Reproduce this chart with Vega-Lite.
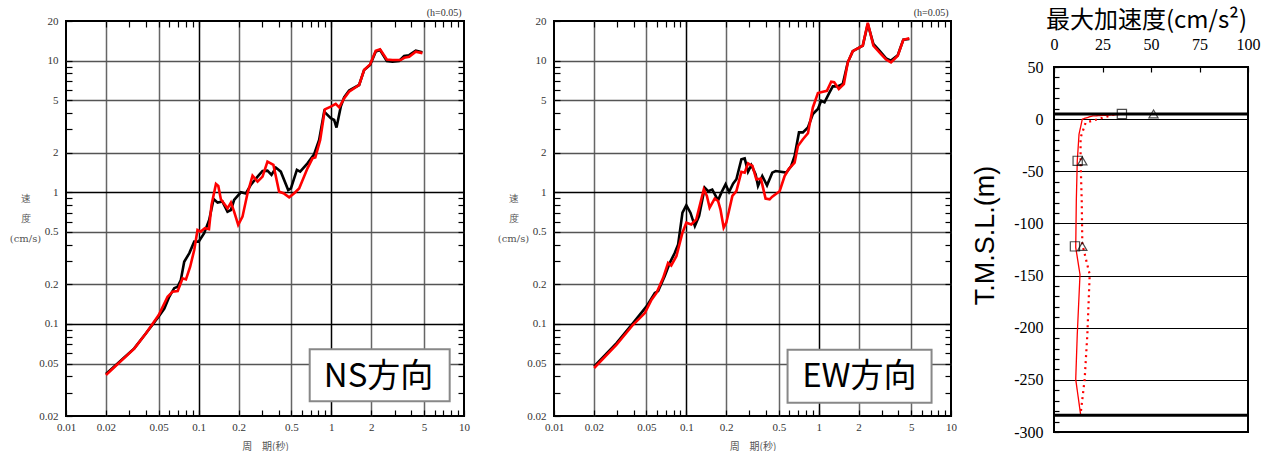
{
"$schema": "https://vega.github.io/schema/vega-lite/v6.json",
"padding": {"left": 8, "top": 7, "right": 0, "bottom": 0},
"config": {"view": {"stroke": "black", "strokeWidth": 2}},
"datasets": {
"ns": [
{"s":"obs","T":0.02,"V":0.0417},{"s":"obs","T":0.0327,"V":0.0653},{"s":"obs","T":0.0401,"V":0.085},{"s":"obs","T":0.05,"V":0.114},{"s":"obs","T":0.0551,"V":0.131},{"s":"obs","T":0.06,"V":0.161},{"s":"obs","T":0.0654,"V":0.187},{"s":"obs","T":0.0695,"V":0.192},{"s":"obs","T":0.0734,"V":0.216},{"s":"obs","T":0.0778,"V":0.297},{"s":"obs","T":0.0849,"V":0.344},{"s":"obs","T":0.0926,"V":0.422},{"s":"obs","T":0.1,"V":0.422},{"s":"obs","T":0.11,"V":0.489},{"s":"obs","T":0.12,"V":0.617},{"s":"obs","T":0.1296,"V":0.89},{"s":"obs","T":0.139,"V":0.835},{"s":"obs","T":0.151,"V":0.85},{"s":"obs","T":0.165,"V":0.713},{"s":"obs","T":0.175,"V":0.734},{"s":"obs","T":0.185,"V":0.874},{"s":"obs","T":0.208,"V":1.0},{"s":"obs","T":0.227,"V":0.98},{"s":"obs","T":0.247,"V":1.137},{"s":"obs","T":0.278,"V":1.315},{"s":"obs","T":0.303,"V":1.452},{"s":"obs","T":0.33,"V":1.46},{"s":"obs","T":0.354,"V":1.354},{"s":"obs","T":0.382,"V":1.54},{"s":"obs","T":0.416,"V":1.435},{"s":"obs","T":0.473,"V":1.04},{"s":"obs","T":0.496,"V":1.07},{"s":"obs","T":0.55,"V":1.478},{"s":"obs","T":0.582,"V":1.435},{"s":"obs","T":0.661,"V":1.66},{"s":"obs","T":0.742,"V":1.944},{"s":"obs","T":0.809,"V":2.5},{"s":"obs","T":0.883,"V":4.1},{"s":"obs","T":0.99,"V":3.65},{"s":"obs","T":1.05,"V":3.54},{"s":"obs","T":1.094,"V":3.1},{"s":"obs","T":1.178,"V":4.47},{"s":"obs","T":1.248,"V":5.27},{"s":"obs","T":1.361,"V":5.92},{"s":"obs","T":1.62,"V":6.53},{"s":"obs","T":1.766,"V":8.49},{"s":"obs","T":1.96,"V":9.27},{"s":"obs","T":2.16,"V":11.7},{"s":"obs","T":2.33,"V":12.05},{"s":"obs","T":2.62,"V":9.94},{"s":"obs","T":2.89,"V":9.8},{"s":"obs","T":3.24,"V":9.94},{"s":"obs","T":3.54,"V":10.85},{"s":"obs","T":3.86,"V":11.0},{"s":"obs","T":4.33,"V":11.9},{"s":"obs","T":4.86,"V":11.57},
{"s":"sim","T":0.02,"V":0.041},{"s":"sim","T":0.0327,"V":0.065},{"s":"sim","T":0.0401,"V":0.085},{"s":"sim","T":0.05,"V":0.117},{"s":"sim","T":0.0583,"V":0.161},{"s":"sim","T":0.0636,"V":0.176},{"s":"sim","T":0.0695,"V":0.178},{"s":"sim","T":0.0757,"V":0.222},{"s":"sim","T":0.0802,"V":0.218},{"s":"sim","T":0.0863,"V":0.272},{"s":"sim","T":0.0926,"V":0.365},{"s":"sim","T":0.098,"V":0.518},{"s":"sim","T":0.1036,"V":0.503},{"s":"sim","T":0.1114,"V":0.533},{"s":"sim","T":0.1196,"V":0.524},{"s":"sim","T":0.125,"V":0.8},{"s":"sim","T":0.135,"V":1.157},{"s":"sim","T":0.1406,"V":1.117},{"s":"sim","T":0.147,"V":0.885},{"s":"sim","T":0.165,"V":0.756},{"s":"sim","T":0.175,"V":0.835},{"s":"sim","T":0.185,"V":0.713},{"s":"sim","T":0.1986,"V":0.565},{"s":"sim","T":0.214,"V":0.653},{"s":"sim","T":0.2335,"V":0.983},{"s":"sim","T":0.2547,"V":1.339},{"s":"sim","T":0.278,"V":1.205},{"s":"sim","T":0.303,"V":1.315},{"s":"sim","T":0.33,"V":1.71},{"s":"sim","T":0.366,"V":1.613},{"s":"sim","T":0.404,"V":1.01},{"s":"sim","T":0.436,"V":0.983},{"s":"sim","T":0.481,"V":0.916},{"s":"sim","T":0.525,"V":0.983},{"s":"sim","T":0.572,"V":1.07},{"s":"sim","T":0.661,"V":1.52},{"s":"sim","T":0.721,"V":1.81},{"s":"sim","T":0.757,"V":1.84},{"s":"sim","T":0.824,"V":2.5},{"s":"sim","T":0.894,"V":4.27},{"s":"sim","T":0.99,"V":4.47},{"s":"sim","T":1.08,"V":4.69},{"s":"sim","T":1.146,"V":4.42},{"s":"sim","T":1.248,"V":5.17},{"s":"sim","T":1.361,"V":5.8},{"s":"sim","T":1.62,"V":6.53},{"s":"sim","T":1.766,"V":8.49},{"s":"sim","T":1.96,"V":9.37},{"s":"sim","T":2.16,"V":11.9},{"s":"sim","T":2.33,"V":12.2},{"s":"sim","T":2.62,"V":10.2},{"s":"sim","T":2.89,"V":10.1},{"s":"sim","T":3.33,"V":10.1},{"s":"sim","T":3.54,"V":10.5},{"s":"sim","T":3.86,"V":10.7},{"s":"sim","T":4.33,"V":11.7},{"s":"sim","T":4.86,"V":11.4}
],
"ew": [
{"s":"obs","T":0.0201,"V":0.0476},{"s":"obs","T":0.0297,"V":0.0716},{"s":"obs","T":0.0397,"V":0.102},{"s":"obs","T":0.05,"V":0.136},{"s":"obs","T":0.0578,"V":0.172},{"s":"obs","T":0.0612,"V":0.1774},{"s":"obs","T":0.0687,"V":0.231},{"s":"obs","T":0.075,"V":0.291},{"s":"obs","T":0.0818,"V":0.347},{"s":"obs","T":0.0867,"V":0.402},{"s":"obs","T":0.0935,"V":0.7},{"s":"obs","T":0.1,"V":0.796},{"s":"obs","T":0.1074,"V":0.7},{"s":"obs","T":0.116,"V":0.554},{"s":"obs","T":0.1249,"V":0.661},{"s":"obs","T":0.1377,"V":1.085},{"s":"obs","T":0.146,"V":1.02},{"s":"obs","T":0.157,"V":1.05},{"s":"obs","T":0.1737,"V":0.869},{"s":"obs","T":0.184,"V":0.994},{"s":"obs","T":0.198,"V":1.15},{"s":"obs","T":0.2103,"V":1.006},{"s":"obs","T":0.2255,"V":1.164},{"s":"obs","T":0.2389,"V":1.256},{"s":"obs","T":0.2606,"V":1.783},{"s":"obs","T":0.276,"V":1.81},{"s":"obs","T":0.2925,"V":1.43},{"s":"obs","T":0.31,"V":1.606},{"s":"obs","T":0.334,"V":1.37},{"s":"obs","T":0.348,"V":1.117},{"s":"obs","T":0.375,"V":1.33},{"s":"obs","T":0.407,"V":1.13},{"s":"obs","T":0.446,"V":1.41},{"s":"obs","T":0.473,"V":1.45},{"s":"obs","T":0.569,"V":1.41},{"s":"obs","T":0.621,"V":1.59},{"s":"obs","T":0.658,"V":1.89},{"s":"obs","T":0.71,"V":2.85},{"s":"obs","T":0.76,"V":2.85},{"s":"obs","T":0.83,"V":3.11},{"s":"obs","T":0.904,"V":3.93},{"s":"obs","T":0.987,"V":4.29},{"s":"obs","T":1.045,"V":4.96},{"s":"obs","T":1.107,"V":4.82},{"s":"obs","T":1.208,"V":5.74},{"s":"obs","T":1.279,"V":6.38},{"s":"obs","T":1.39,"V":6.38},{"s":"obs","T":1.521,"V":6.64},{"s":"obs","T":1.66,"V":9.71},{"s":"obs","T":1.81,"V":11.8},{"s":"obs","T":1.976,"V":12.4},{"s":"obs","T":2.155,"V":13.0},{"s":"obs","T":2.35,"V":19.0},{"s":"obs","T":2.59,"V":13.4},{"s":"obs","T":2.88,"V":11.9},{"s":"obs","T":3.23,"V":10.4},{"s":"obs","T":3.52,"V":10.0},{"s":"obs","T":3.96,"V":11.0},{"s":"obs","T":4.36,"V":14.4},{"s":"obs","T":4.84,"V":14.6},
{"s":"sim","T":0.0201,"V":0.0463},{"s":"sim","T":0.0297,"V":0.0696},{"s":"sim","T":0.0397,"V":0.099},{"s":"sim","T":0.0486,"V":0.121},{"s":"sim","T":0.0546,"V":0.153},{"s":"sim","T":0.0595,"V":0.172},{"s":"sim","T":0.0668,"V":0.224},{"s":"sim","T":0.0728,"V":0.291},{"s":"sim","T":0.0769,"V":0.278},{"s":"sim","T":0.0841,"V":0.327},{"s":"sim","T":0.0935,"V":0.493},{"s":"sim","T":0.1,"V":0.588},{"s":"sim","T":0.109,"V":0.57},{"s":"sim","T":0.119,"V":0.623},{"s":"sim","T":0.126,"V":0.787},{"s":"sim","T":0.1355,"V":1.054},{"s":"sim","T":0.143,"V":0.938},{"s":"sim","T":0.15,"V":0.764},{"s":"sim","T":0.1638,"V":0.895},{"s":"sim","T":0.1737,"V":0.859},{"s":"sim","T":0.181,"V":0.742},{"s":"sim","T":0.1915,"V":0.538},{"s":"sim","T":0.2005,"V":0.588},{"s":"sim","T":0.2228,"V":0.938},{"s":"sim","T":0.2389,"V":1.02},{"s":"sim","T":0.2606,"V":1.43},{"s":"sim","T":0.276,"V":1.41},{"s":"sim","T":0.2925,"V":1.66},{"s":"sim","T":0.316,"V":1.59},{"s":"sim","T":0.338,"V":1.256},{"s":"sim","T":0.366,"V":1.27},{"s":"sim","T":0.397,"V":0.895},{"s":"sim","T":0.426,"V":0.884},{"s":"sim","T":0.446,"V":0.927},{"s":"sim","T":0.507,"V":1.02},{"s":"sim","T":0.553,"V":1.33},{"s":"sim","T":0.594,"V":1.5},{"s":"sim","T":0.658,"V":1.68},{"s":"sim","T":0.697,"V":2.25},{"s":"sim","T":0.76,"V":2.53},{"s":"sim","T":0.83,"V":2.81},{"s":"sim","T":0.904,"V":4.41},{"s":"sim","T":0.987,"V":5.67},{"s":"sim","T":1.077,"V":5.8},{"s":"sim","T":1.154,"V":5.9},{"s":"sim","T":1.244,"V":6.92},{"s":"sim","T":1.31,"V":6.86},{"s":"sim","T":1.42,"V":6.09},{"s":"sim","T":1.55,"V":6.64},{"s":"sim","T":1.66,"V":9.71},{"s":"sim","T":1.81,"V":11.8},{"s":"sim","T":2.155,"V":13.0},{"s":"sim","T":2.35,"V":19.4},{"s":"sim","T":2.59,"V":13.0},{"s":"sim","T":2.96,"V":11.2},{"s":"sim","T":3.23,"V":10.2},{"s":"sim","T":3.52,"V":9.7},{"s":"sim","T":3.96,"V":10.9},{"s":"sim","T":4.36,"V":14.4},{"s":"sim","T":4.84,"V":14.8}
],
"boxNS": [{"x1":0.687,"x2":7.8,"y1":0.0259,"y2":0.0643,"tx":2.27,"ty":0.0394,"label":"NS方向"}],
"boxEW": [{"x1":0.582,"x2":7.13,"y1":0.0252,"y2":0.0637,"tx":2.03,"ty":0.0399,"label":"EW方向"}],
"profile": [
{"k":"solid","a":34,"z":4.5},{"k":"solid","a":19.7,"z":3},{"k":"solid","a":14.6,"z":0},{"k":"solid","a":12.9,"z":-14.5},{"k":"solid","a":12.0,"z":-40},{"k":"solid","a":11.5,"z":-78.5},{"k":"solid","a":11.2,"z":-123},{"k":"solid","a":13.4,"z":-149},{"k":"solid","a":12.0,"z":-206},{"k":"solid","a":11.2,"z":-249.5},{"k":"solid","a":13.7,"z":-283},
{"k":"dot","a":31,"z":4.5},{"k":"dot","a":16.3,"z":-3.4},{"k":"dot","a":13.7,"z":-17.8},{"k":"dot","a":13.7,"z":-40},{"k":"dot","a":14.3,"z":-78.5},{"k":"dot","a":14.6,"z":-120},{"k":"dot","a":18.4,"z":-149},{"k":"dot","a":17.2,"z":-206},{"k":"dot","a":15.8,"z":-249.5},{"k":"dot","a":13.7,"z":-283}
],
"markers": [
{"m":"square","a":35,"z":5},{"m":"square","a":12.2,"z":-40},{"m":"square","a":10.8,"z":-122},
{"m":"triangle","a":51.3,"z":5},{"m":"triangle","a":14.6,"z":-40},{"m":"triangle","a":14.6,"z":-122}
],
"levels": [{"z":5},{"z":-284}],
"blank": [{"z":0}]
},
"hconcat": [
{
"spacing": 25,
"hconcat": [
{
"width": 398, "height": 395,
"title": {"text": "(h=0.05)", "anchor": "end", "fontSize": 10, "font": "Liberation Serif", "fontWeight": "normal", "color": "#333", "offset": -3, "dx": -8},
"resolve": {"axis": {"x": "independent", "y": "independent"}},
"layer": [
{
"data": {"name": "ns"},
"mark": {"type": "line", "strokeWidth": 2.6},
"encoding": {
"x": {"field": "T", "type": "quantitative", "scale": {"type": "log", "domain": [0.01, 10], "nice": false},
 "axis": {"orient": "bottom", "values": [0.01,0.02,0.03,0.04,0.05,0.06,0.07,0.08,0.09,0.1,0.2,0.3,0.4,0.5,0.6,0.7,0.8,0.9,1,2,3,4,5,6,7,8,9,10],
  "labelExpr": "indexof([0.01,0.02,0.05,0.1,0.2,0.5,1,2,5,10], datum.value) >= 0 ? '' + datum.value : ''",
  "labelOverlap": false, "labelFlush": false, "labelFont": "Liberation Serif", "labelFontSize": 11, "labelColor": "#333", "labelPadding": 11,
  "tickSize": -6, "tickColor": "black", "tickWidth": 1.2, "domain": false,
  "grid": true, "gridWidth": 1.5,
  "gridColor": {"condition": {"test": "indexof([0.1,1], datum.value) >= 0", "value": "black"}, "value": "#666"},
  "gridOpacity": {"condition": {"test": "indexof([0.02,0.05,0.1,0.2,0.5,1,2,5], datum.value) >= 0", "value": 1}, "value": 0},
  "title": "周　期(秒)", "titleFont": "Noto Sans CJK JP", "titleFontSize": 10, "titleFontWeight": "normal", "titleColor": "#555", "titlePadding": 9}},
"y": {"field": "V", "type": "quantitative", "scale": {"type": "log", "domain": [0.02, 20], "nice": false},
 "axis": {"orient": "left", "values": [0.02,0.03,0.04,0.05,0.06,0.07,0.08,0.09,0.1,0.2,0.3,0.4,0.5,0.6,0.7,0.8,0.9,1,2,3,4,5,6,7,8,9,10,20],
  "labelExpr": "indexof([0.02,0.05,0.1,0.2,0.5,1,2,5,10,20], datum.value) >= 0 ? '' + datum.value : ''",
  "labelOverlap": false, "labelFlush": false, "labelFont": "Liberation Serif", "labelFontSize": 11, "labelColor": "#333", "labelPadding": 14,
  "tickSize": -6, "tickColor": "black", "tickWidth": 1.2, "domain": false,
  "grid": true, "gridWidth": 1.5,
  "gridColor": {"condition": {"test": "indexof([0.1,1], datum.value) >= 0", "value": "black"}, "value": "#555"},
  "gridOpacity": {"condition": {"test": "indexof([0.05,0.1,0.2,0.5,1,2,5,10], datum.value) >= 0", "value": 1}, "value": 0},
  "title": ["速", "度", "(cm/s)"], "titleAngle": 0, "titleX": -41, "titleY": 177, "titleAlign": "center", "titleBaseline": "middle", "titleLineHeight": 20,
  "titleFont": "DejaVu Serif", "titleFontSize": 10, "titleFontWeight": "normal", "titleColor": "#555"}},
"color": {"field": "s", "type": "nominal", "scale": {"domain": ["obs", "sim"], "range": ["black", "red"]}, "legend": null}
}
},
{
"data": {"name": "ns"},
"mark": {"type": "line", "opacity": 0},
"encoding": {
"x": {"field": "T", "type": "quantitative", "scale": {"type": "log", "domain": [0.01, 10], "nice": false},
 "axis": {"orient": "top", "values": [0.02,0.03,0.04,0.05,0.06,0.07,0.08,0.09,0.1,0.2,0.3,0.4,0.5,0.6,0.7,0.8,0.9,1,2,3,4,5,6,7,8,9], "labels": false, "grid": false, "domain": false, "tickSize": -6, "tickColor": "black", "tickWidth": 1.2, "title": null}},
"y": {"field": "V", "type": "quantitative", "scale": {"type": "log", "domain": [0.02, 20], "nice": false},
 "axis": {"orient": "right", "values": [0.03,0.04,0.05,0.06,0.07,0.08,0.09,0.1,0.2,0.3,0.4,0.5,0.6,0.7,0.8,0.9,1,2,3,4,5,6,7,8,9,10], "labels": false, "grid": false, "domain": false, "tickSize": -6, "tickColor": "black", "tickWidth": 1.2, "title": null}}
}
},
{
"data": {"name": "boxNS"},
"mark": {"type": "rect", "fill": "white", "stroke": "#888", "strokeWidth": 2},
"encoding": {
"x": {"field": "x1", "type": "quantitative", "scale": {"type": "log", "domain": [0.01, 10], "nice": false}, "axis": null},
"x2": {"field": "x2"},
"y": {"field": "y1", "type": "quantitative", "scale": {"type": "log", "domain": [0.02, 20], "nice": false}, "axis": null},
"y2": {"field": "y2"}
}
},
{
"data": {"name": "boxNS"},
"mark": {"type": "text", "font": "Noto Sans CJK JP", "fontSize": 33, "color": "black", "align": "center", "baseline": "middle"},
"encoding": {
"x": {"field": "tx", "type": "quantitative", "scale": {"type": "log", "domain": [0.01, 10], "nice": false}, "axis": null},
"y": {"field": "ty", "type": "quantitative", "scale": {"type": "log", "domain": [0.02, 20], "nice": false}, "axis": null},
"text": {"field": "label"}
}
}
]
},
{
"width": 397, "height": 395,
"title": {"text": "(h=0.05)", "anchor": "end", "fontSize": 10, "font": "Liberation Serif", "fontWeight": "normal", "color": "#333", "offset": -3, "dx": -8},
"resolve": {"axis": {"x": "independent", "y": "independent"}},
"layer": [
{
"data": {"name": "ew"},
"mark": {"type": "line", "strokeWidth": 2.6},
"encoding": {
"x": {"field": "T", "type": "quantitative", "scale": {"type": "log", "domain": [0.01, 10], "nice": false},
 "axis": {"orient": "bottom", "values": [0.01,0.02,0.03,0.04,0.05,0.06,0.07,0.08,0.09,0.1,0.2,0.3,0.4,0.5,0.6,0.7,0.8,0.9,1,2,3,4,5,6,7,8,9,10],
  "labelExpr": "indexof([0.01,0.02,0.05,0.1,0.2,0.5,1,2,5,10], datum.value) >= 0 ? '' + datum.value : ''",
  "labelOverlap": false, "labelFlush": false, "labelFont": "Liberation Serif", "labelFontSize": 11, "labelColor": "#333", "labelPadding": 11,
  "tickSize": -6, "tickColor": "black", "tickWidth": 1.2, "domain": false,
  "grid": true, "gridWidth": 1.5,
  "gridColor": {"condition": {"test": "indexof([0.1,1], datum.value) >= 0", "value": "black"}, "value": "#666"},
  "gridOpacity": {"condition": {"test": "indexof([0.02,0.05,0.1,0.2,0.5,1,2,5], datum.value) >= 0", "value": 1}, "value": 0},
  "title": "周　期(秒)", "titleFont": "Noto Sans CJK JP", "titleFontSize": 10, "titleFontWeight": "normal", "titleColor": "#555", "titlePadding": 9}},
"y": {"field": "V", "type": "quantitative", "scale": {"type": "log", "domain": [0.02, 20], "nice": false},
 "axis": {"orient": "left", "values": [0.02,0.03,0.04,0.05,0.06,0.07,0.08,0.09,0.1,0.2,0.3,0.4,0.5,0.6,0.7,0.8,0.9,1,2,3,4,5,6,7,8,9,10,20],
  "labelExpr": "indexof([0.02,0.05,0.1,0.2,0.5,1,2,5,10,20], datum.value) >= 0 ? '' + datum.value : ''",
  "labelOverlap": false, "labelFlush": false, "labelFont": "Liberation Serif", "labelFontSize": 11, "labelColor": "#333", "labelPadding": 14,
  "tickSize": -6, "tickColor": "black", "tickWidth": 1.2, "domain": false,
  "grid": true, "gridWidth": 1.5,
  "gridColor": {"condition": {"test": "indexof([0.1,1], datum.value) >= 0", "value": "black"}, "value": "#555"},
  "gridOpacity": {"condition": {"test": "indexof([0.05,0.1,0.2,0.5,1,2,5,10], datum.value) >= 0", "value": 1}, "value": 0},
  "title": ["速", "度", "(cm/s)"], "titleAngle": 0, "titleX": -41, "titleY": 177, "titleAlign": "center", "titleBaseline": "middle", "titleLineHeight": 20,
  "titleFont": "DejaVu Serif", "titleFontSize": 10, "titleFontWeight": "normal", "titleColor": "#555"}},
"color": {"field": "s", "type": "nominal", "scale": {"domain": ["obs", "sim"], "range": ["black", "red"]}, "legend": null}
}
},
{
"data": {"name": "ew"},
"mark": {"type": "line", "opacity": 0},
"encoding": {
"x": {"field": "T", "type": "quantitative", "scale": {"type": "log", "domain": [0.01, 10], "nice": false},
 "axis": {"orient": "top", "values": [0.02,0.03,0.04,0.05,0.06,0.07,0.08,0.09,0.1,0.2,0.3,0.4,0.5,0.6,0.7,0.8,0.9,1,2,3,4,5,6,7,8,9], "labels": false, "grid": false, "domain": false, "tickSize": -6, "tickColor": "black", "tickWidth": 1.2, "title": null}},
"y": {"field": "V", "type": "quantitative", "scale": {"type": "log", "domain": [0.02, 20], "nice": false},
 "axis": {"orient": "right", "values": [0.03,0.04,0.05,0.06,0.07,0.08,0.09,0.1,0.2,0.3,0.4,0.5,0.6,0.7,0.8,0.9,1,2,3,4,5,6,7,8,9,10], "labels": false, "grid": false, "domain": false, "tickSize": -6, "tickColor": "black", "tickWidth": 1.2, "title": null}}
}
},
{
"data": {"name": "boxEW"},
"mark": {"type": "rect", "fill": "white", "stroke": "#888", "strokeWidth": 2},
"encoding": {
"x": {"field": "x1", "type": "quantitative", "scale": {"type": "log", "domain": [0.01, 10], "nice": false}, "axis": null},
"x2": {"field": "x2"},
"y": {"field": "y1", "type": "quantitative", "scale": {"type": "log", "domain": [0.02, 20], "nice": false}, "axis": null},
"y2": {"field": "y2"}
}
},
{
"data": {"name": "boxEW"},
"mark": {"type": "text", "font": "Noto Sans CJK JP", "fontSize": 33, "color": "black", "align": "center", "baseline": "middle"},
"encoding": {
"x": {"field": "tx", "type": "quantitative", "scale": {"type": "log", "domain": [0.01, 10], "nice": false}, "axis": null},
"y": {"field": "ty", "type": "quantitative", "scale": {"type": "log", "domain": [0.02, 20], "nice": false}, "axis": null},
"text": {"field": "label"}
}
}
]
}
]
},
{
"bounds": "flush",
"spacing": 45,
"vconcat": [
{
"width": 194, "height": 1,
"view": {"stroke": null},
"data": {"name": "blank"},
"mark": {"type": "rule", "opacity": 0},
"encoding": {"y": {"field": "z", "type": "quantitative", "axis": null}}
},
{
"width": 194, "height": 365,
"resolve": {"axis": {"x": "independent", "y": "independent"}},
"layer": [
{
"data": {"name": "profile"},
"mark": {"type": "line", "color": "red"},
"encoding": {
"x": {"field": "a", "type": "quantitative", "scale": {"domain": [0, 100], "nice": false, "zero": false},
 "axis": {"orient": "top", "values": [0, 25, 50, 75, 100], "labelFont": "Liberation Serif", "labelFontSize": 16, "labelColor": "black", "labelPadding": 20, "labelFlush": false, "labelOverlap": false,
  "tickSize": -5, "tickColor": "black", "tickWidth": 1.2, "grid": false, "domain": false,
  "title": "最大加速度(cm/s²)", "titleFont": "Noto Sans CJK JP", "titleFontSize": 24, "titleFontWeight": "normal", "titleColor": "black", "titlePadding": 4, "titleX": 92, "titleLimit": 400}},
"y": {"field": "z", "type": "quantitative", "scale": {"domain": [-300, 50], "nice": false, "zero": false},
 "axis": {"orient": "left", "values": [-300,-290,-280,-270,-260,-250,-240,-230,-220,-210,-200,-190,-180,-170,-160,-150,-140,-130,-120,-110,-100,-90,-80,-70,-60,-50,-40,-30,-20,-10,0,10,20,30,40,50],
  "labelExpr": "datum.value % 50 === 0 ? '' + datum.value : ''", "labelFont": "Liberation Serif", "labelFontSize": 16, "labelColor": "black", "labelPadding": 16, "labelFlush": false, "labelOverlap": false,
  "tickSize": -5, "tickColor": "black", "tickWidth": 1.2, "domain": false,
  "grid": true, "gridColor": "black", "gridWidth": 1.2,
  "gridOpacity": {"condition": {"test": "datum.value % 50 === 0", "value": 1}, "value": 0},
  "title": "T.M.S.L.(m)", "titleFont": "Liberation Sans", "titleFontSize": 27, "titleFontWeight": "normal", "titleColor": "black", "titlePadding": 14, "titleY": 168, "titleLimit": 400}},
"strokeDash": {"field": "k", "type": "nominal", "scale": {"domain": ["solid", "dot"], "range": [[1, 0], [2, 4]]}, "legend": null},
"strokeWidth": {"field": "k", "type": "nominal", "scale": {"domain": ["solid", "dot"], "range": [1.3, 2.2]}, "legend": null},
"order": {"field": "z", "type": "quantitative", "sort": "descending"}
}
},
{
"data": {"name": "levels"},
"mark": {"type": "rule", "color": "black", "strokeWidth": 3},
"encoding": {
"y": {"field": "z", "type": "quantitative", "scale": {"domain": [-300, 50], "nice": false, "zero": false}, "axis": null}
}
},
{
"data": {"name": "markers"},
"mark": {"type": "point", "filled": false, "color": "black", "strokeWidth": 1.2, "size": 85},
"encoding": {
"x": {"field": "a", "type": "quantitative", "scale": {"domain": [0, 100], "nice": false, "zero": false}, "axis": null},
"y": {"field": "z", "type": "quantitative", "scale": {"domain": [-300, 50], "nice": false, "zero": false}, "axis": null},
"shape": {"field": "m", "type": "nominal", "scale": {"domain": ["square", "triangle"], "range": ["square", "triangle-up"]}, "legend": null}
}
}
]
}
]
}
],
"spacing": 12
}
